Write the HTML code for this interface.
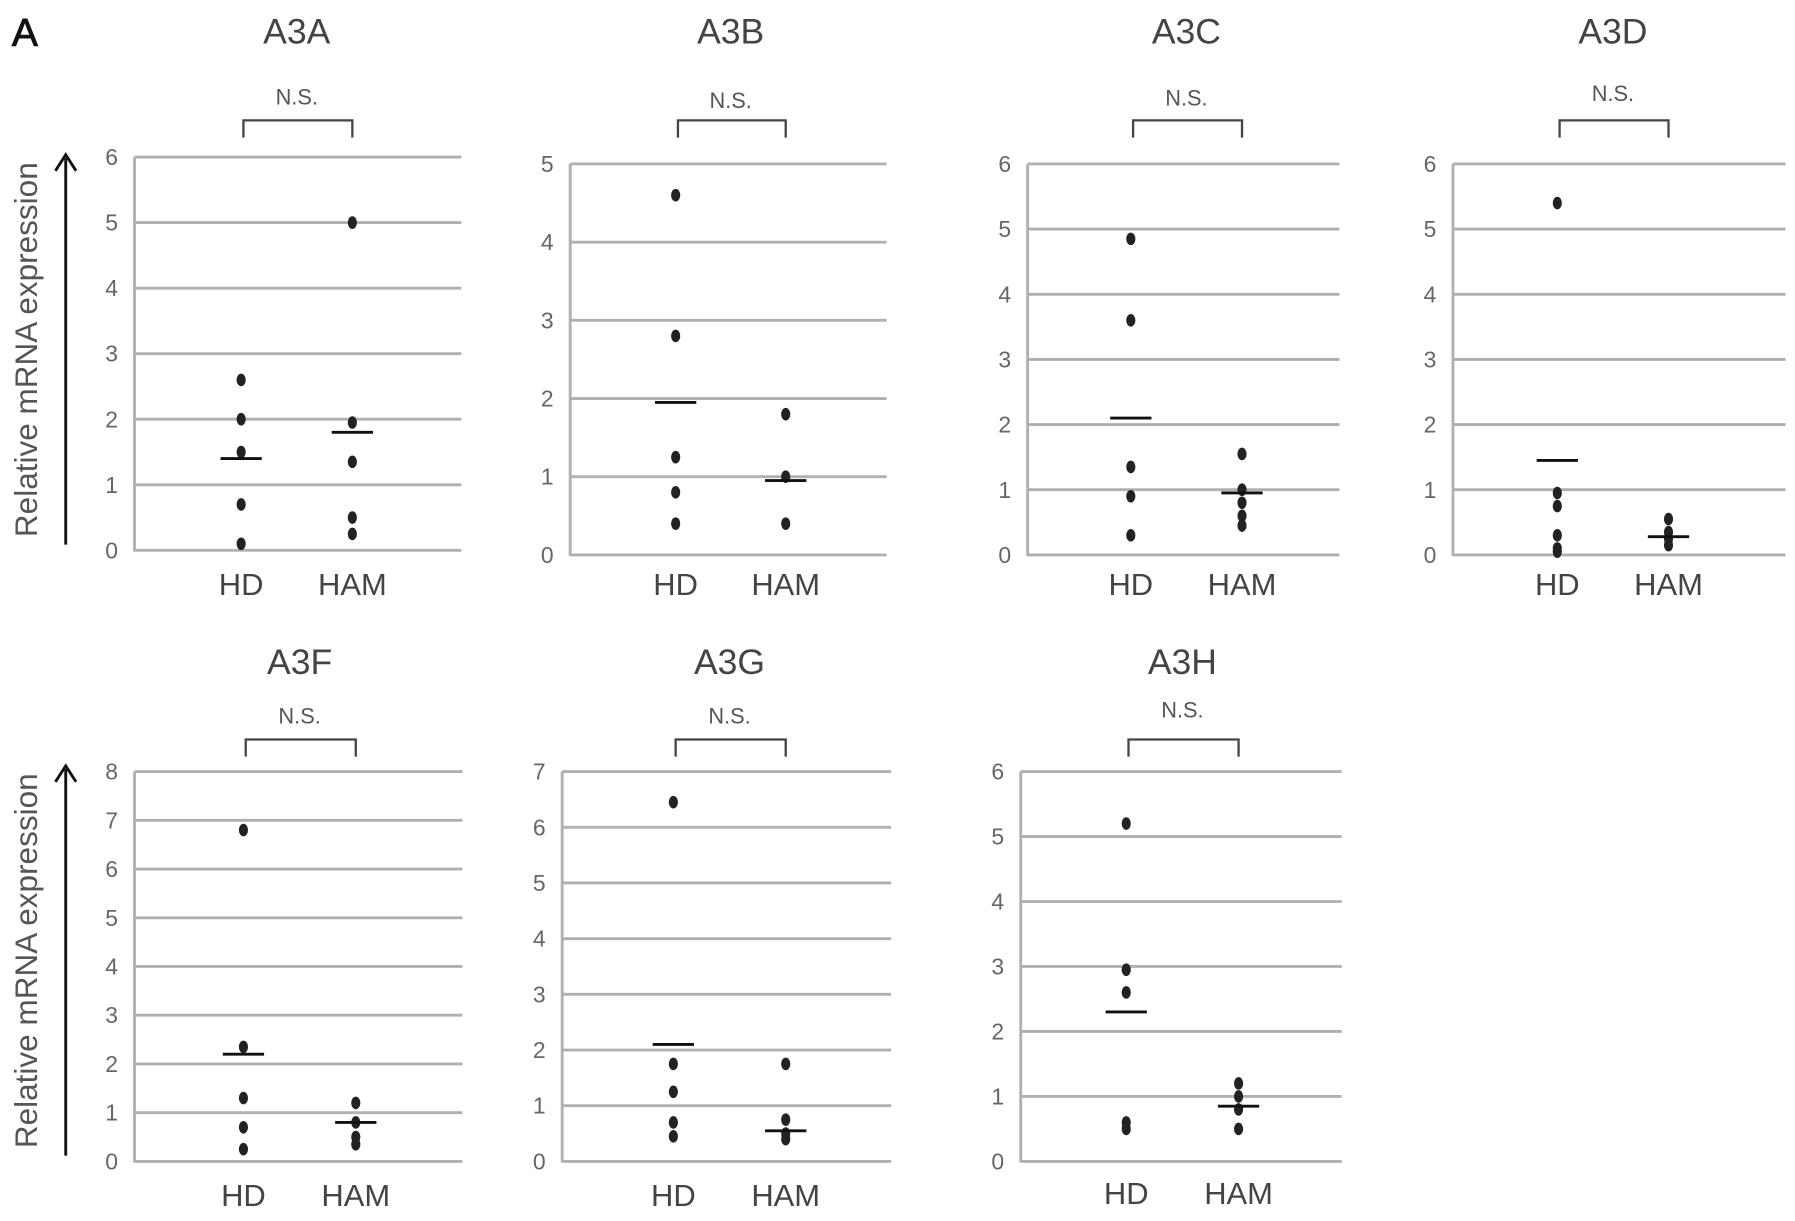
<!DOCTYPE html>
<html><head><meta charset="utf-8">
<style>
html,body{margin:0;padding:0;background:#fff;}
svg{display:block;}
text{font-family:"Liberation Sans",sans-serif;}
</style></head>
<body>
<svg id="fig" width="1795" height="1221" viewBox="0 0 1565 1065" xmlns="http://www.w3.org/2000/svg">
<text x="10" y="40" font-size="34" fill="#111" stroke="#111" stroke-width="0.8">A</text>
</svg>
<script>
const panelNames = ["A3A","A3B","A3C","A3D","A3F","A3G","A3H"];
const yMaxes = [6,5,6,6,8,7,6];
const hdValues = [
  [2.6,2.0,1.5,0.7,0.1],
  [4.6,2.8,1.25,0.8,0.4],
  [4.85,3.6,1.35,0.9,0.3],
  [5.4,0.95,0.75,0.3,0.1,0.05],
  [6.8,2.35,1.3,0.7,0.25],
  [6.45,1.75,1.25,0.7,0.45],
  [5.2,2.95,2.6,0.6,0.5]
];
const hamValues = [
  [5.0,1.95,1.35,0.5,0.25],
  [1.8,1.0,0.4],
  [1.55,1.0,0.8,0.6,0.45],
  [0.55,0.35,0.25,0.15],
  [1.2,0.8,0.5,0.35],
  [1.75,0.75,0.5,0.4],
  [1.2,1.0,0.8,0.5]
];
const hdMeans = [1.4,1.95,2.1,1.45,2.2,2.1,2.3];
const hamMeans = [1.8,0.95,0.95,0.28,0.8,0.55,0.85];
const groupLabels = ["HD","HAM"];

// layout (not data)
const layout = [
  {ax:117,top:137,zero:480,right:402,hd:210,ham:307,ty:28,nsy:85,by:105,ly:510},
  {ax:497,top:143,zero:484,right:773,hd:589,ham:685,ty:28,nsy:88,by:105,ly:510},
  {ax:896,top:143,zero:484,right:1168,hd:986,ham:1083,ty:28,nsy:86,by:105,ly:510},
  {ax:1267,top:143,zero:484,right:1557,hd:1358,ham:1455,ty:28,nsy:82,by:105,ly:510},
  {ax:117,top:673,zero:1013,right:403,hd:212,ham:310,ty:578,nsy:625,by:645,ly:1043},
  {ax:490,top:673,zero:1013,right:777,hd:587,ham:685,ty:578,nsy:625,by:645,ly:1043},
  {ax:890,top:673,zero:1013,right:1170,hd:982,ham:1080,ty:578,nsy:620,by:645,ly:1041}
];
const NS = "http://www.w3.org/2000/svg";
const svg = document.getElementById('fig');
function mk(tag, attrs, parent){
  const e = document.createElementNS(NS, tag);
  for (const k in attrs) e.setAttribute(k, attrs[k]);
  (parent||svg).appendChild(e);
  return e;
}
panelNames.forEach((name,i)=>{
  const L = layout[i];
  const g = mk('g',{});
  
  
  const yS = v => L.zero - (v / yMaxes[i]) * (L.zero - L.top);
  const cx = (L.hd + L.ham)/2;
  const t = mk('text',{x:cx,y:L.ty+10,'font-size':31,fill:'#444','text-anchor':'middle'},g);
  t.textContent = name;
  
  
  const ns = mk('text',{x:cx,y:L.nsy+6,'font-size':19,fill:'#555','text-anchor':'middle'},g);
  ns.textContent = "N.S.";
  
  
  const br = mk('path',{d:`M${L.hd+2},${L.by+15} V${L.by} H${L.ham} V${L.by+15}`,fill:'none',stroke:'#444','stroke-width':2},g);
  
  
  for(let v=0; v<=yMaxes[i]; v++){
    const y = yS(v);
    const gl = mk('line',{x1:L.ax,x2:L.right,y1:y,y2:y,stroke:'#b0b0b0','stroke-width':2.5},g);
    
    
    const tl = mk('text',{x:L.ax-20,y:y+7,'font-size':20,fill:'#666','text-anchor':'middle'},g);
    tl.textContent = String(v);
    
    
  }
  const ax = mk('line',{x1:L.ax,x2:L.ax,y1:L.top,y2:L.zero+1,stroke:'#b0b0b0','stroke-width':2.5},g);
  
  
  [[L.hd,hdValues[i],hdMeans[i]],[L.ham,hamValues[i],hamMeans[i]]].forEach((grp,gi)=>{
    grp[1].forEach(v=>{
      const d = mk('ellipse',{cx:grp[0],cy:yS(v),rx:4,ry:5.5,fill:'#222'},g);
      
      
    });
    const m = mk('line',{x1:grp[0]-18,x2:grp[0]+18,y1:yS(grp[2]),y2:yS(grp[2]),stroke:'#111','stroke-width':2.5},g);
    
    
    const xl = mk('text',{x:grp[0],y:L.ly+9,'font-size':27,fill:'#444','text-anchor':'middle'},g);
    xl.textContent = groupLabels[gi];
    
    
  });
});
// y-axis titles with arrows
[[305,475,135],[838,1008,668]].forEach(r=>{
  const t = mk('text',{x:0,y:0,'font-size':27.5,fill:'#555','text-anchor':'middle',transform:`translate(32,${r[0]}) rotate(-90)`});
  t.textContent = "Relative mRNA expression";
  
  
  const a = mk('line',{x1:57,x2:57,y1:r[1],y2:r[2]+3,stroke:'#111','stroke-width':2.5});
  
  
  const h = mk('path',{d:`M48,${r[2]+14} L57,${r[2]} L66,${r[2]+14}`,fill:'none',stroke:'#111','stroke-width':2.5});
  
  
});
</script>
</body></html>
